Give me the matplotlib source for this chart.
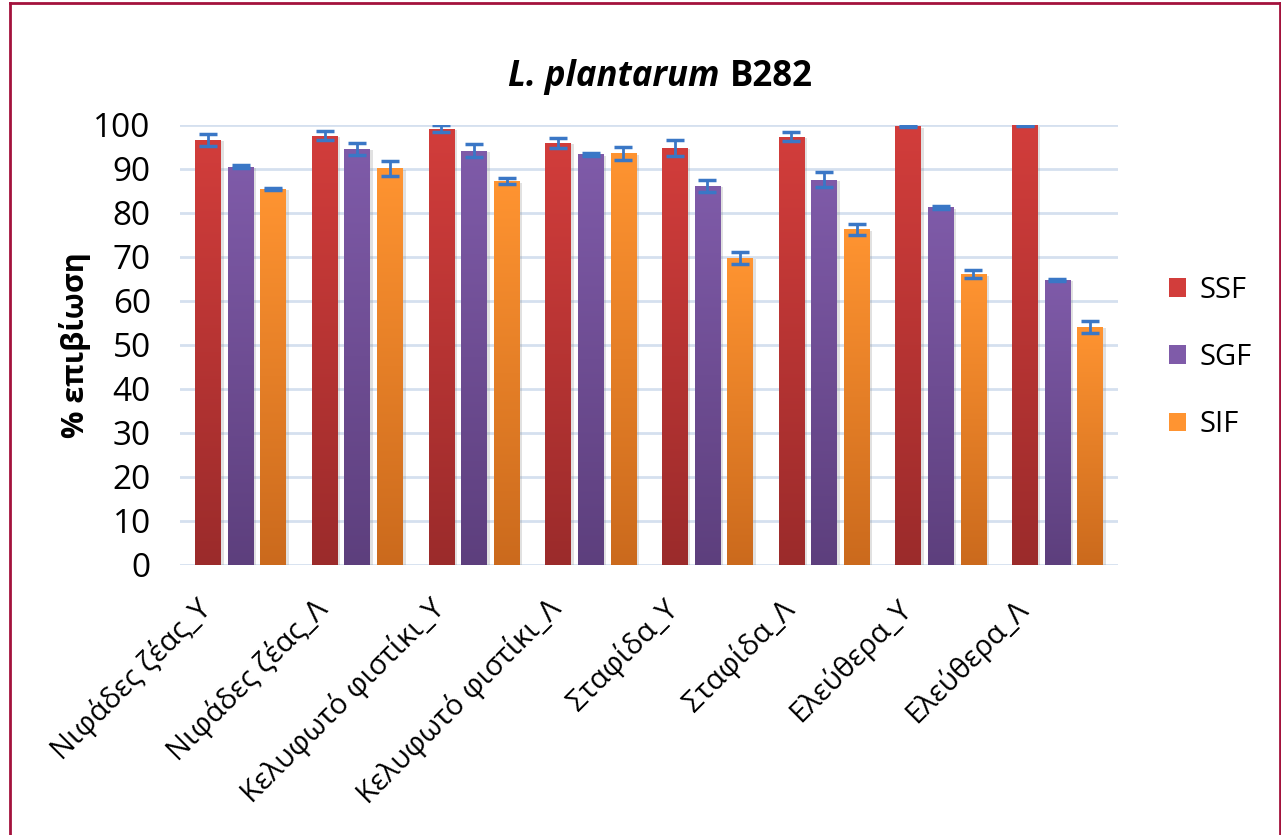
import numpy as np
import matplotlib
matplotlib.use('Agg')
import matplotlib.pyplot as plt
from matplotlib.colors import LinearSegmentedColormap
from matplotlib.lines import Line2D
from matplotlib.patches import Patch
import matplotlib.patheffects as pe
import matplotlib.transforms as mtransforms

plt.rcParams['font.family'] = ['Open Sans', 'DejaVu Sans']

# ----------------------------------------------
# data
categories = ['Νιφάδες ζέας_Υ', 'Νιφάδες ζέας_Λ', 'Κελυφωτό φιστίκι_Υ',
              'Κελυφωτό φιστίκι_Λ', 'Σταφίδα_Υ', 'Σταφίδα_Λ',
              'Ελεύθερα_Υ', 'Ελεύθερα_Λ']
series = ['SSF', 'SGF', 'SIF']

ssf = [96.6, 97.6, 99.2, 95.9, 94.8, 97.3, 99.7, 99.9]
sgf = [90.5, 94.6, 94.2, 93.3, 86.2, 87.6, 81.3, 64.8]
sif = [85.5, 90.2, 87.2, 93.6, 69.8, 76.3, 66.1, 54.1]

ssf_err = [1.3, 1.0, 0.9, 1.2, 1.8, 1.0, 0.2, 0.2]
sgf_err = [0.3, 1.4, 1.4, 0.3, 1.4, 1.8, 0.4, 0.3]
sif_err = [0.2, 1.7, 0.7, 1.5, 1.3, 1.2, 0.9, 1.3]

# colours: (top, bottom) of each gradient
col_top = ['#d23d3b', '#7f5ba9', '#ff9431']
col_bot = ['#9b2b2b', '#5d3f7d', '#cb6a1d']

# ----------------------------------------------
fig = plt.figure(figsize=(12.81, 8.35), dpi=100)
ax = fig.add_axes([0.1405, 0.3234, 0.7323, 0.5269])

x = np.arange(len(categories))
width = 0.22
step = 0.28
values = [ssf, sgf, sif]
errors = [ssf_err, sgf_err, sif_err]

grad = np.linspace(1, 0, 256).reshape(-1, 1)
for k in range(3):
    xs = x + (k - 1) * step
    bars = ax.bar(xs, values[k], width, color=col_bot[k], zorder=2,
                  path_effects=[pe.withSimplePatchShadow(offset=(2, -1), shadow_rgbFace='#888888', alpha=0.25)])
    cmap = LinearSegmentedColormap.from_list('g%d' % k, [col_bot[k], col_top[k]])
    for b in bars:
        x0, h = b.get_x(), b.get_height()
        im = ax.imshow(grad, extent=[x0, x0 + b.get_width(), 0, h], aspect='auto',
                       cmap=cmap, vmin=0, vmax=1, zorder=3, interpolation='bilinear')
        im.set_clip_path(b)
    ax.errorbar(xs, values[k], yerr=errors[k], fmt='none', ecolor='#3a77c6',
                elinewidth=2, capsize=6.5, capthick=2.5, zorder=5)

ax.set_xlim(-0.52, len(categories) - 0.48)
ax.set_ylim(0, 100)
ax.set_yticks(range(0, 101, 10))
ax.tick_params(axis='y', labelsize=24, length=0, pad=21)
ax.tick_params(axis='x', length=0, pad=4)
ax.set_xticks(x)
ax.set_xticklabels(categories, rotation=45, ha='right', va='top',
                   rotation_mode='anchor', fontsize=21)
for lab in ax.get_xticklabels():
    lab.set_transform(lab.get_transform() + mtransforms.ScaledTranslation(-0.45, -0.23, fig.dpi_scale_trans))

ax.grid(axis='y', color='#d5e0ef', linewidth=2)
ax.set_axisbelow(True)
for s in ax.spines.values():
    s.set_visible(False)

ax.set_ylabel('% επιβίωση', fontsize=22, fontweight='bold', labelpad=2)

# title: italic species name + strain
fig.text(0.562, 0.908, 'L. plantarum', fontsize=25, fontweight='bold',
         fontstyle='italic', ha='right', va='center')
fig.text(0.570, 0.908, 'B282', fontsize=25, fontweight='bold',
         ha='left', va='center')

handles = [Patch(facecolor=col_top[k], edgecolor='none') for k in range(3)]
fig.legend(handles, series, loc='center left', bbox_to_anchor=(0.892, 0.572),
           frameon=False, fontsize=21, handlelength=0.6, handleheight=0.6,
           handletextpad=0.45, labelspacing=1.31)

# figure border
for xy in [([0.0075, 0.0075], [0, 0.997]), ([0.0075, 0.999], [0.997, 0.997]),
           ([0.999, 0.999], [0, 0.997])]:
    fig.add_artist(Line2D(xy[0], xy[1], color='#a3123c', linewidth=2))

fig.savefig('out.png', dpi=100)
